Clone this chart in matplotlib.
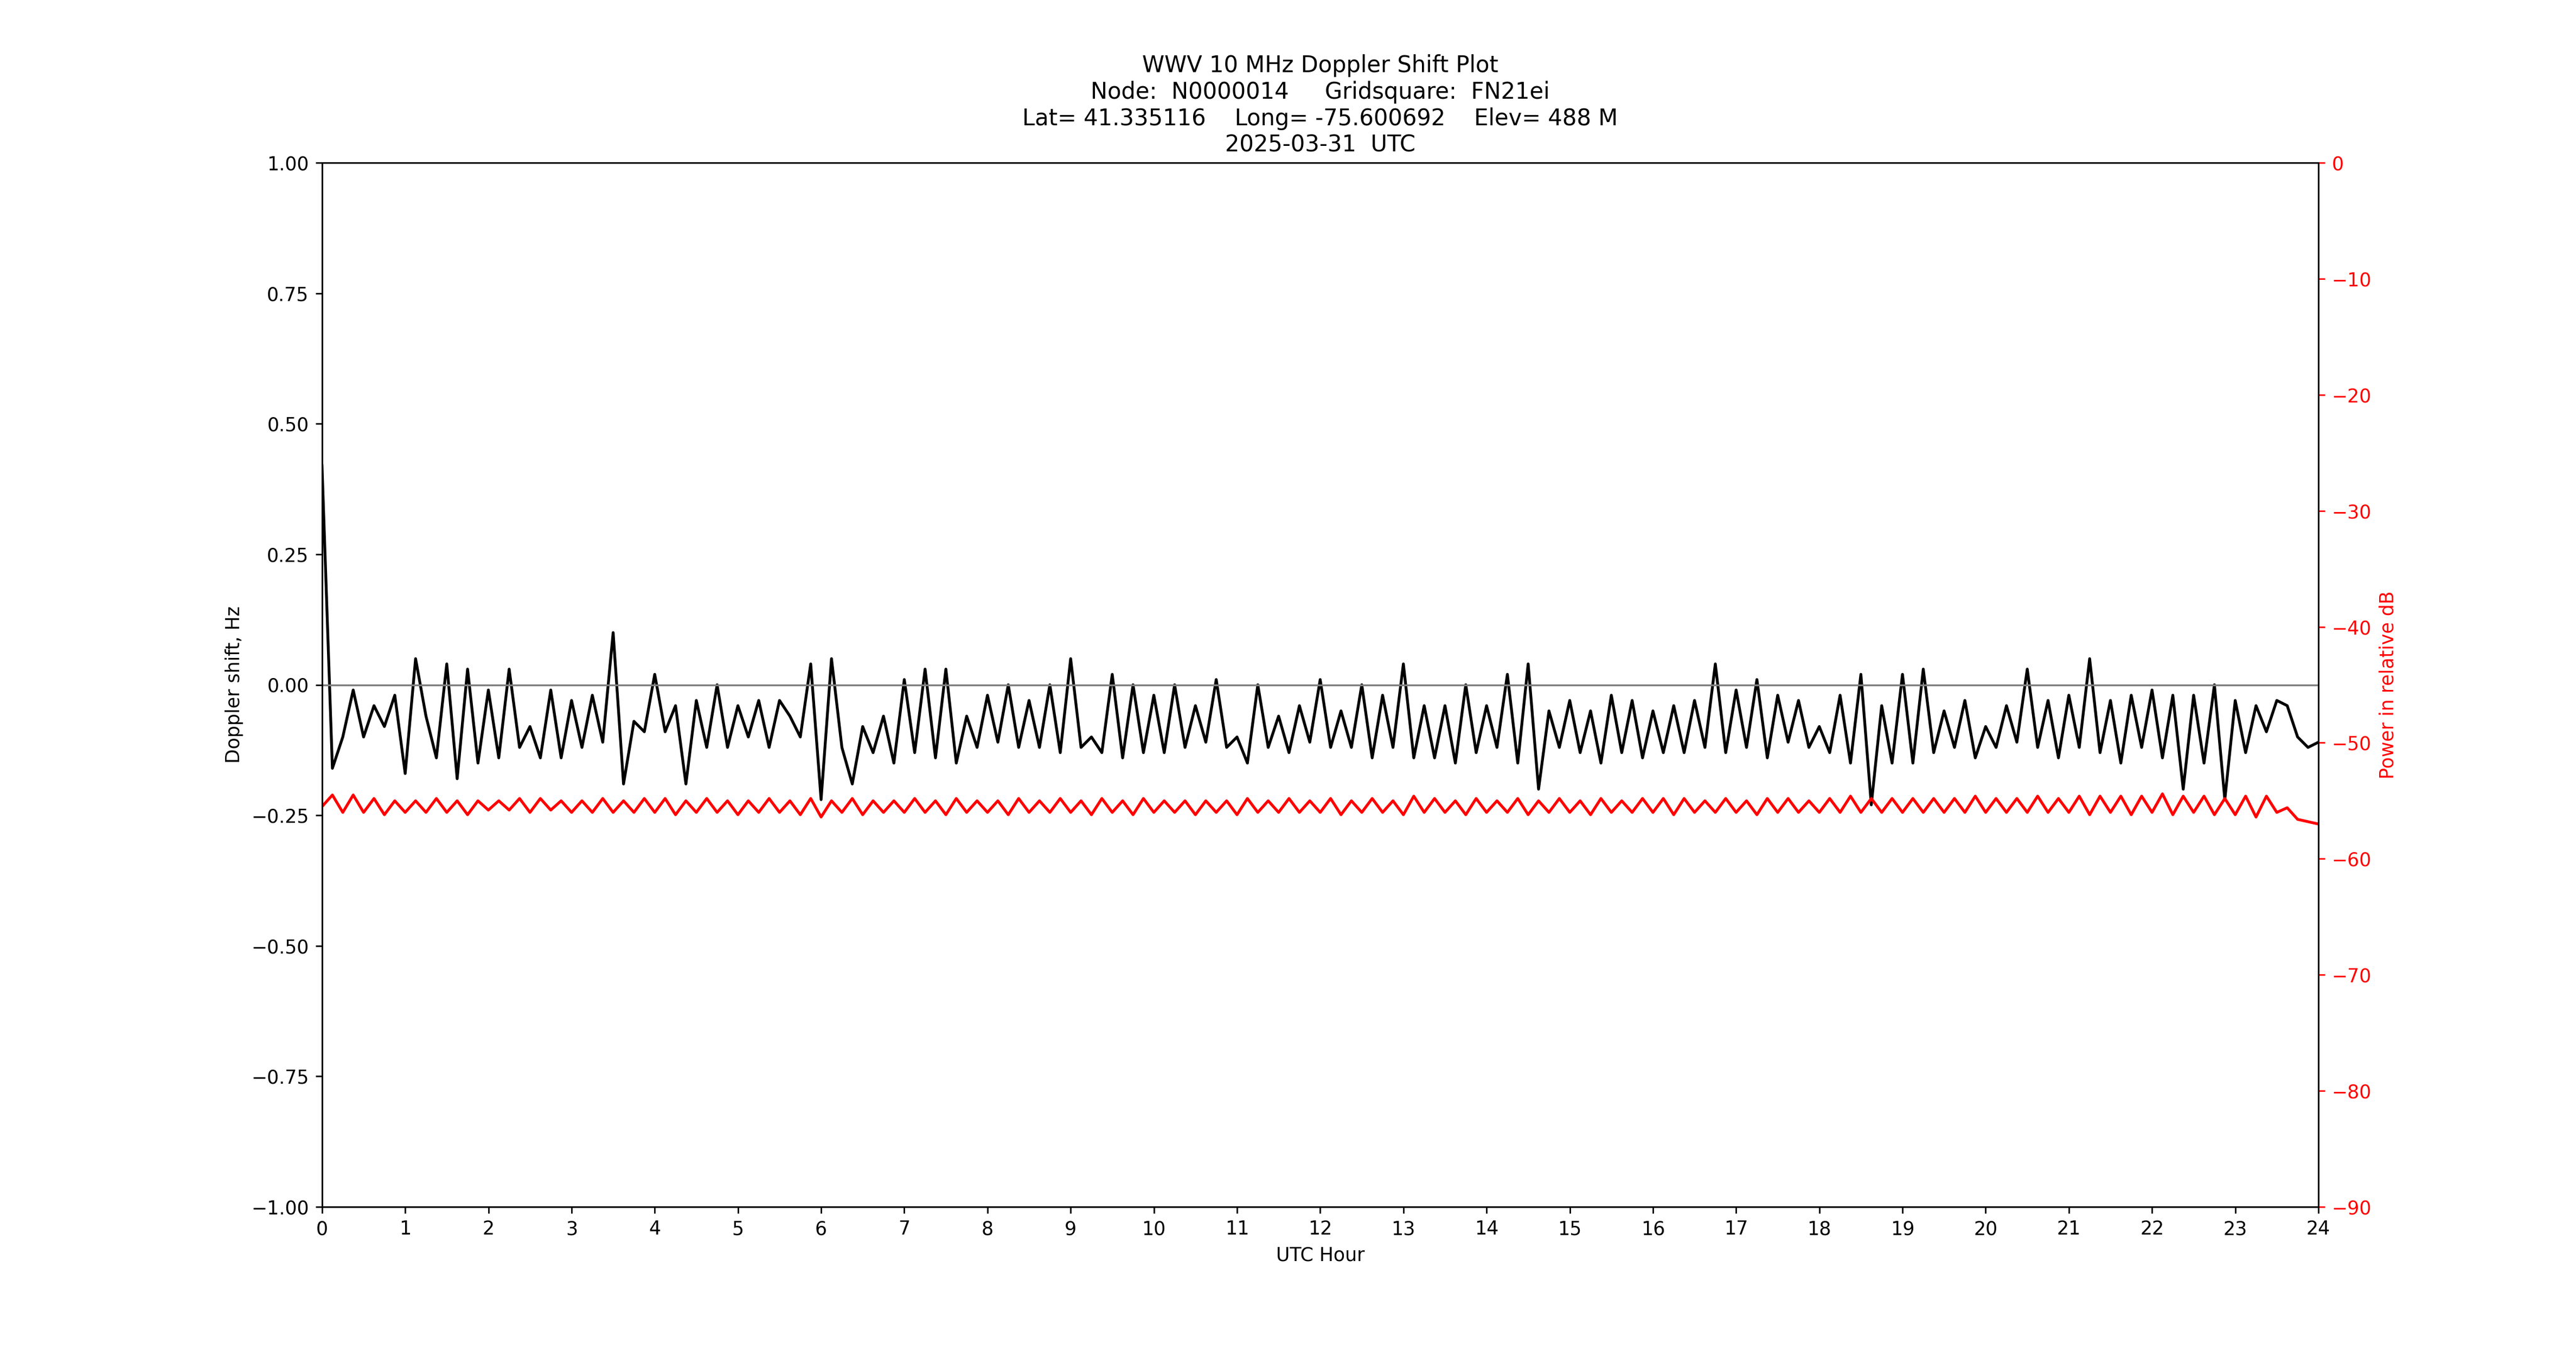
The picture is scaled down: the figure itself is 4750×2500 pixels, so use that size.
import numpy as np
import matplotlib
matplotlib.use('Agg')
import matplotlib.pyplot as plt

# Doppler shift (Hz), 8 samples per hour
doppler = [
    0.42, -0.16, -0.10, -0.01, -0.10, -0.04, -0.08, -0.02,   # 0
    -0.17, 0.05, -0.06, -0.14, 0.04, -0.18, 0.03, -0.15,     # 1
    -0.01, -0.14, 0.03, -0.12, -0.08, -0.14, -0.01, -0.14,   # 2
    -0.03, -0.12, -0.02, -0.11, 0.10, -0.19, -0.07, -0.09,   # 3
    0.02, -0.09, -0.04, -0.19, -0.03, -0.12, 0.00, -0.12,    # 4
    -0.04, -0.10, -0.03, -0.12, -0.03, -0.06, -0.10, 0.04,   # 5
    -0.22, 0.05, -0.12, -0.19, -0.08, -0.13, -0.06, -0.15,   # 6
    0.01, -0.13, 0.03, -0.14, 0.03, -0.15, -0.06, -0.12,     # 7
    -0.02, -0.11, 0.00, -0.12, -0.03, -0.12, 0.00, -0.13,    # 8
    0.05, -0.12, -0.10, -0.13, 0.02, -0.14, 0.00, -0.13,     # 9
    -0.02, -0.13, 0.00, -0.12, -0.04, -0.11, 0.01, -0.12,    # 10
    -0.10, -0.15, 0.00, -0.12, -0.06, -0.13, -0.04, -0.11,   # 11
    0.01, -0.12, -0.05, -0.12, 0.00, -0.14, -0.02, -0.12,    # 12
    0.04, -0.14, -0.04, -0.14, -0.04, -0.15, 0.00, -0.13,    # 13
    -0.04, -0.12, 0.02, -0.15, 0.04, -0.20, -0.05, -0.12,    # 14
    -0.03, -0.13, -0.05, -0.15, -0.02, -0.13, -0.03, -0.14,  # 15
    -0.05, -0.13, -0.04, -0.13, -0.03, -0.12, 0.04, -0.13,   # 16
    -0.01, -0.12, 0.01, -0.14, -0.02, -0.11, -0.03, -0.12,   # 17
    -0.08, -0.13, -0.02, -0.15, 0.02, -0.23, -0.04, -0.15,   # 18
    0.02, -0.15, 0.03, -0.13, -0.05, -0.12, -0.03, -0.14,    # 19
    -0.08, -0.12, -0.04, -0.11, 0.03, -0.12, -0.03, -0.14,   # 20
    -0.02, -0.12, 0.05, -0.13, -0.03, -0.15, -0.02, -0.12,   # 21
    -0.01, -0.14, -0.02, -0.20, -0.02, -0.15, 0.00, -0.22,   # 22
    -0.03, -0.13, -0.04, -0.09, -0.03, -0.04, -0.10, -0.12,  # 23
    -0.11,
]

# Power (relative dB), 8 samples per hour
power = [
    -55.5, -54.5, -56.0, -54.5, -56.0, -54.8, -56.2, -55.0,
    -56.0, -55.0, -56.0, -54.8, -56.0, -55.0, -56.2, -55.0,
    -55.8, -55.0, -55.8, -54.8, -56.0, -54.8, -55.8, -55.0,
    -56.0, -55.0, -56.0, -54.8, -56.0, -55.0, -56.0, -54.8,
    -56.0, -54.8, -56.2, -55.0, -56.0, -54.8, -56.0, -55.0,
    -56.2, -55.0, -56.0, -54.8, -56.0, -55.0, -56.2, -54.8,
    -56.4, -55.0, -56.0, -54.8, -56.2, -55.0, -56.0, -55.0,
    -56.0, -54.8, -56.0, -55.0, -56.2, -54.8, -56.0, -55.0,
    -56.0, -55.0, -56.2, -54.8, -56.0, -55.0, -56.0, -54.8,
    -56.0, -55.0, -56.2, -54.8, -56.0, -55.0, -56.2, -54.8,
    -56.0, -55.0, -56.0, -55.0, -56.2, -55.0, -56.0, -55.0,
    -56.2, -54.8, -56.0, -55.0, -56.0, -54.8, -56.0, -55.0,
    -56.0, -54.8, -56.2, -55.0, -56.0, -54.8, -56.0, -55.0,
    -56.2, -54.6, -56.0, -54.8, -56.0, -55.0, -56.2, -54.8,
    -56.0, -55.0, -56.0, -54.8, -56.2, -55.0, -56.0, -54.8,
    -56.0, -55.0, -56.2, -54.8, -56.0, -55.0, -56.0, -54.8,
    -56.0, -54.8, -56.2, -54.8, -56.0, -55.0, -56.0, -54.8,
    -56.0, -55.0, -56.2, -54.8, -56.0, -54.8, -56.0, -55.0,
    -56.0, -54.8, -56.0, -54.6, -56.0, -54.8, -56.0, -54.8,
    -56.0, -54.8, -56.0, -54.8, -56.0, -54.8, -56.0, -54.6,
    -56.0, -54.8, -56.0, -54.8, -56.0, -54.6, -56.0, -54.8,
    -56.0, -54.6, -56.2, -54.6, -56.0, -54.6, -56.2, -54.6,
    -56.0, -54.4, -56.2, -54.6, -56.0, -54.6, -56.2, -54.8,
    -56.2, -54.6, -56.4, -54.6, -56.0, -55.6, -56.6, -56.8,
    -57.0,
]

hours = np.arange(len(doppler)) * 0.125
hours_p = np.arange(len(power)) * 0.125

fig, ax = plt.subplots(figsize=(19, 10), dpi=250)
ax.plot(hours, doppler, color='black', linewidth=1.5)
ax.axhline(0, color='grey', linewidth=1)
ax.set_xlim(0, 24)
ax.set_ylim(-1, 1)
ax.set_xticks(range(0, 25))
ax.set_xlabel('UTC Hour')
ax.set_ylabel('Doppler shift, Hz')

ax2 = ax.twinx()
ax2.plot(hours_p, power, color='red', linewidth=1.5)
ax2.set_ylim(-90, 0)
ax2.set_ylabel('Power in relative dB', color='red')
ax2.tick_params(axis='y', colors='red')

ax.set_title('WWV 10 MHz Doppler Shift Plot\n'
             'Node:  N0000014     Gridsquare:  FN21ei\n'
             'Lat= 41.335116    Long= -75.600692    Elev= 488 M\n'
             '2025-03-31  UTC')

fig.savefig('out.png')
